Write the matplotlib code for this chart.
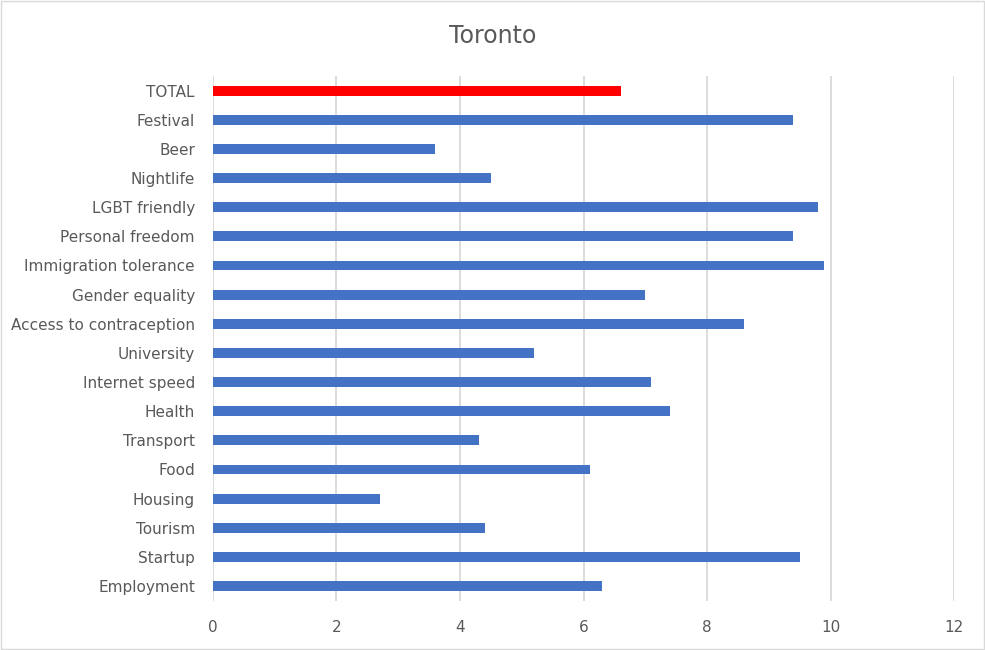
import matplotlib.pyplot as plt

categories = ['Employment', 'Startup', 'Tourism', 'Housing', 'Food', 'Transport',
              'Health', 'Internet speed', 'University', 'Access to contraception',
              'Gender equality', 'Immigration tolerance', 'Personal freedom',
              'LGBT friendly', 'Nightlife', 'Beer', 'Festival', 'TOTAL']
scores = [6.3, 9.5, 4.4, 2.7, 6.1, 4.3, 7.4, 7.1, 5.2, 8.6,
          7.0, 9.9, 9.4, 9.8, 4.5, 3.6, 9.4, 6.6]
xticks = [0, 2, 4, 6, 8, 10, 12]

colors = ['#4472C4'] * (len(categories) - 1) + ['#FF0000']

fig = plt.figure(figsize=(9.85, 6.5), dpi=100)
ax = fig.add_axes([0.2162, 0.076, 0.7524, 0.807])

ax.barh(range(len(categories)), scores, height=0.34, color=colors, zorder=3)

ax.set_xlim(0, 12)
ax.set_ylim(-0.5, len(categories) - 0.5)
ax.set_xticks(xticks)
ax.set_yticks(range(len(categories)))
ax.set_yticklabels(categories)
ax.grid(axis='x', color='#D9D9D9', linewidth=1.3, zorder=0)
for s in ax.spines.values():
    s.set_visible(False)
ax.tick_params(length=0, labelsize=11, colors='#595959')
ax.tick_params(axis='x', pad=14)
ax.tick_params(axis='y', pad=13)

fig.text(0.5, 0.945, 'Toronto', ha='center', va='center', fontsize=17, color='#595959')

# outer border like the Excel chart area
fig.patches.append(plt.Rectangle((0.001, 0.001), 0.998, 0.998, transform=fig.transFigure,
                                 fill=False, edgecolor='#D9D9D9', linewidth=1))

fig.savefig('out.png', dpi=100)
